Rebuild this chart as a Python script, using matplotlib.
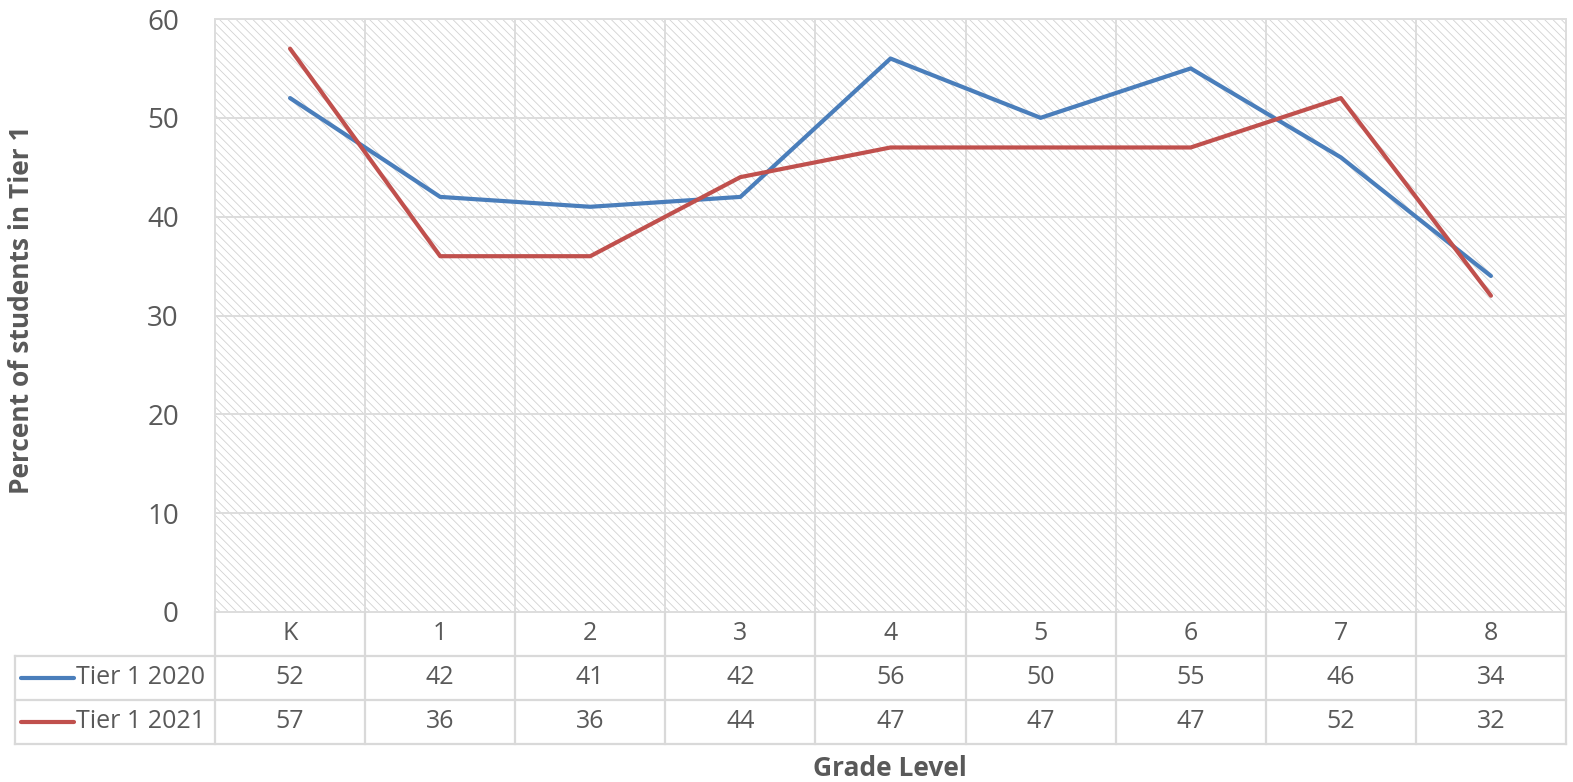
import numpy as np
import matplotlib
matplotlib.use('Agg')
import matplotlib.pyplot as plt
from matplotlib.patches import Rectangle

grades = ['K', '1', '2', '3', '4', '5', '6', '7', '8']
tier2020 = [52, 42, 41, 42, 56, 50, 55, 46, 34]
tier2021 = [57, 36, 36, 44, 47, 47, 47, 52, 32]
series_names = ['Tier 1 2020', 'Tier 1 2021']
yticks = [0, 10, 20, 30, 40, 50, 60]

blue = '#4a7ebb'
red = '#c0504d'
grid_c = '#dddddd'
txt_c = '#595959'

plt.rcParams['font.family'] = ['Open Sans', 'DejaVu Sans']
plt.rcParams['hatch.linewidth'] = 0.6
plt.rcParams['hatch.color'] = '#d2d2d2'

W, H = 1573, 782
fig = plt.figure(figsize=(W / 100, H / 100), dpi=100)

def px(x0, y0, x1, y1):
    return [x0 / W, 1 - y1 / H, (x1 - x0) / W, (y1 - y0) / H]

n = len(grades)
xs = np.arange(n) + 0.5

ax = fig.add_axes(px(215, 19, 1566, 612))
ax.add_patch(Rectangle((0, 0), 1, 1, transform=ax.transAxes, facecolor='white',
                       hatch='\\\\\\\\', edgecolor='#d2d2d2', lw=0, zorder=0))
ax.set_xlim(0, n)
ax.set_ylim(0, 60)
ax.set_yticks(yticks)
ax.set_xticks(np.arange(n + 1))
ax.set_xticklabels([])
ax.grid(True, color=grid_c, lw=1.4, zorder=1)
ax.tick_params(length=0, labelsize=20, labelcolor=txt_c, pad=26)
for s in ax.spines.values():
    s.set_color(grid_c)
    s.set_linewidth(1.4)
ax.plot(xs, tier2020, color=blue, lw=3, zorder=3, solid_capstyle='round')
ax.plot(xs, tier2021, color=red, lw=3, zorder=3, solid_capstyle='round')

# data table below the plot
tb = fig.add_axes(px(215, 612, 1566, 744))
tb.set_xlim(0, n)
tb.set_ylim(0, 3)
tb.axis('off')
leg_w = 200 / 150
lc = '#d9d9d9'
lw = 1.6
for i in range(n + 1):
    tb.plot([i, i], [0, 3], color=lc, lw=lw, clip_on=False)
tb.plot([-leg_w, -leg_w], [0, 2], color=lc, lw=lw, clip_on=False)
for yy in [0, 1, 2]:
    tb.plot([-leg_w, n], [yy, yy], color=lc, lw=lw, clip_on=False)
fs = 18
for i, g in enumerate(grades):
    tb.text(i + 0.5, 2.5, g, ha='center', va='center', fontsize=fs, color=txt_c)
    tb.text(i + 0.5, 1.5, str(tier2020[i]), ha='center', va='center', fontsize=fs, color=txt_c)
    tb.text(i + 0.5, 0.5, str(tier2021[i]), ha='center', va='center', fontsize=fs, color=txt_c)
for row, (name, col) in enumerate(zip(series_names, [blue, red])):
    yy = 1.5 - row
    tb.plot([-1.29, -0.94], [yy, yy], color=col, lw=3, clip_on=False, solid_capstyle='round')
    tb.text(-0.925, yy, name, ha='left', va='center', fontsize=fs, color=txt_c)

fig.text(22 / W, 1 - 310 / H, 'Percent of students in Tier 1', rotation=90, ha='center',
         va='center', fontsize=19, fontweight='bold', color=txt_c)
fig.text(890 / W, 1 - 768 / H, 'Grade Level', ha='center', va='center', fontsize=19,
         fontweight='bold', color=txt_c)

fig.savefig('out.png', dpi=100)
